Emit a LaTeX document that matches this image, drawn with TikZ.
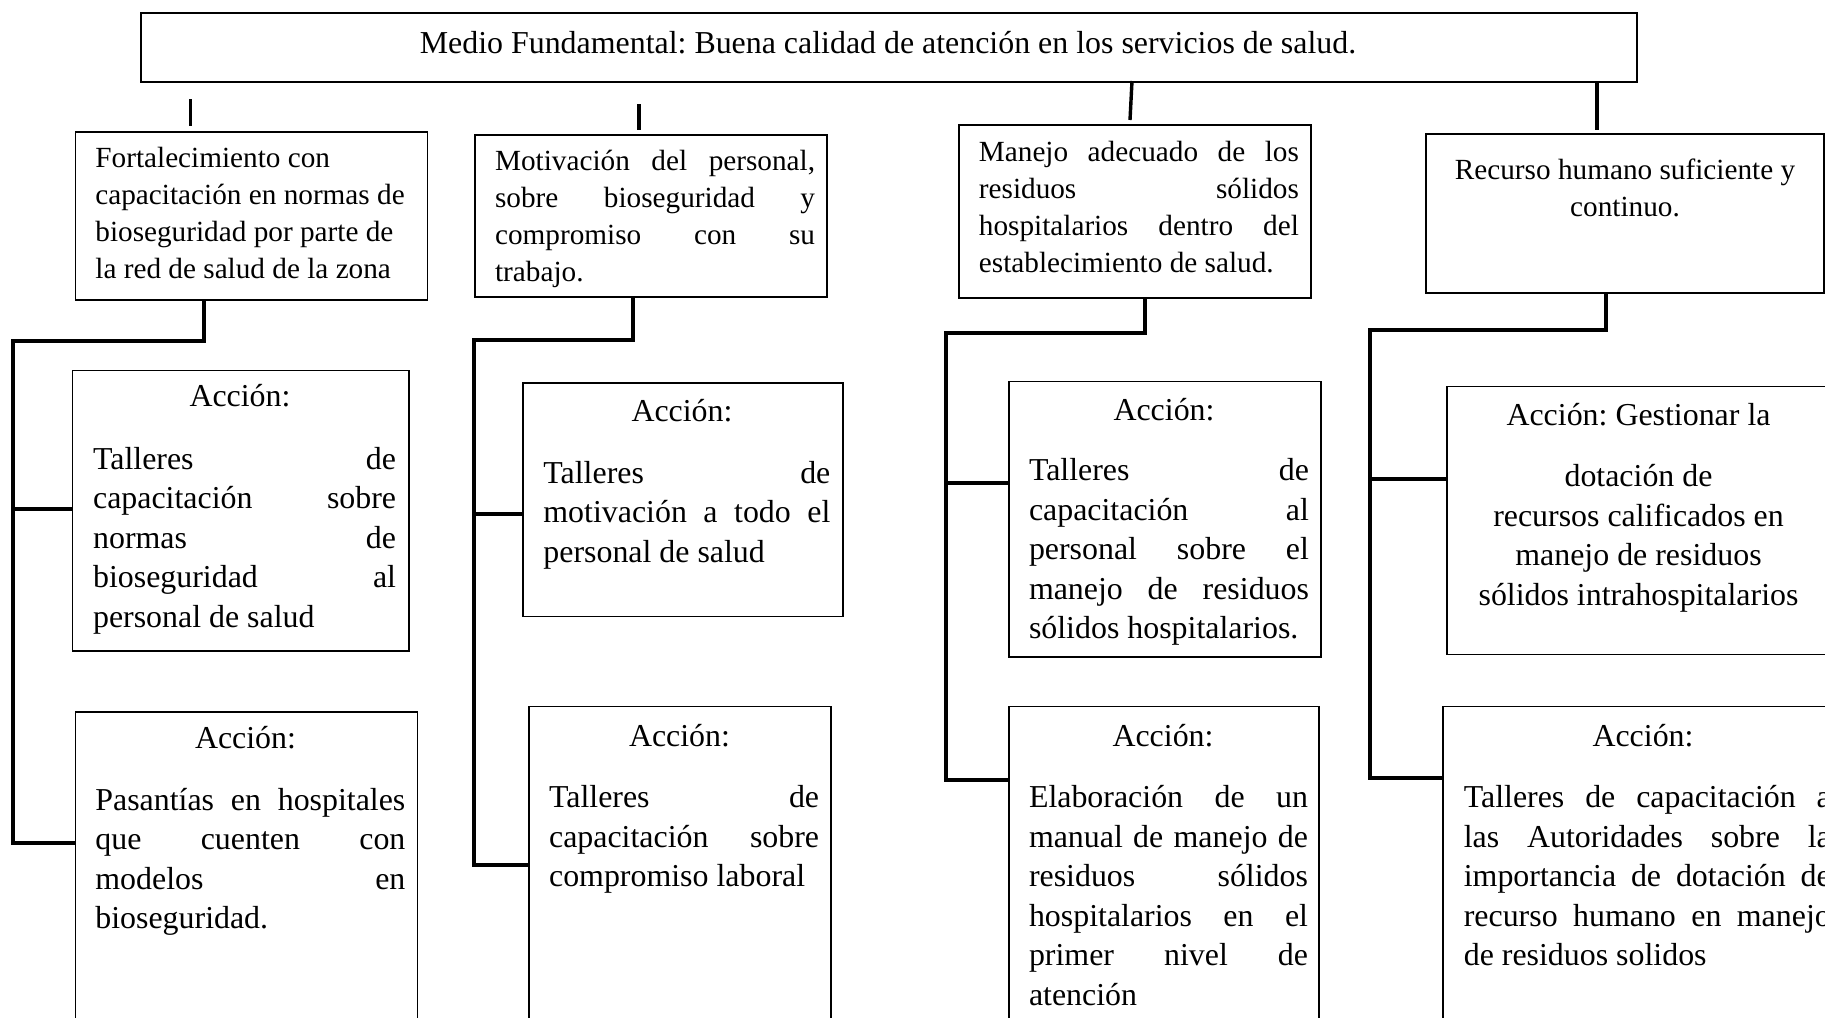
\documentclass[tikz,border=0pt]{standalone}
\usepackage{fontspec}
\setmainfont{Liberation Serif}
\frenchspacing
\newlength\pxu \setlength\pxu{0.5pt}
% justified line of a given width (in px) and a plain line with normal word spaces
\newcommand\J[2]{\leavevmode\hbox to #1\pxu{\spaceskip=\fontdimen2\font plus 1fil\xspaceskip=\spaceskip\relax #2}}
\newcommand\N[1]{\leavevmode\hbox{\spaceskip=\fontdimen2\font\xspaceskip=\spaceskip\relax #1}}
\newcommand\fa{\fontsize{15.95}{19.75}\selectfont}
\newcommand\fh{\fontsize{14.62}{18.5}\selectfont}
\tikzset{
  boxst/.style={draw, line width=0.85pt, inner sep=0pt, anchor=north west},
  conn/.style={line width=1.7pt},
  ta/.style={inner sep=0pt, font=\fa, align=left},
  th/.style={inner sep=0pt, font=\fh, align=left},
}
\begin{document}
\begin{tikzpicture}[x=0.5pt,y=-0.5pt]
\useasboundingbox (0,0) rectangle (1825,1017);
\fill[white] (0,0) rectangle (1825,1017);
\clip (0,0) rectangle (1825,1017);

% boxes
\node[boxst, minimum width=748pt, minimum height=34.5pt] (top) at (140,12) {};
\node[boxst, minimum width=176pt, minimum height=84pt] (b1) at (74.5,131) {};
\node[boxst, minimum width=176pt, minimum height=81pt] (b2) at (474,134) {};
\node[boxst, minimum width=176pt, minimum height=86.5pt] (b3) at (958,124) {};
\node[boxst, minimum width=199pt, minimum height=79.5pt] (b4) at (1425,133) {};
\node[boxst, minimum width=168.2pt, minimum height=140.25pt] (a1a) at (71.6,369.5) {};
\node[boxst, minimum width=171.1pt, minimum height=200pt] (a1b) at (74.5,711) {};
\node[boxst, minimum width=160pt, minimum height=116.75pt] (a2a) at (522,382) {};
\node[boxst, minimum width=151pt, minimum height=200pt] (a2b) at (528,705.6) {};
\node[boxst, minimum width=156pt, minimum height=137.75pt] (a3a) at (1008,380.5) {};
\node[boxst, minimum width=155pt, minimum height=200pt] (a3b) at (1008,705.6) {};
\node[boxst, minimum width=250pt, minimum height=134pt] (a4a) at (1446,385.5) {};
\node[boxst, minimum width=250pt, minimum height=200pt] (a4b) at (1442,705.6) {};

% stubs under the top box
\coordinate (s1a) at (190.7,99);  \coordinate (s1b) at (190.7,126);
\coordinate (s2a) at (639,104);   \coordinate (s2b) at (639,130);
\coordinate (s3a) at (1132,81);   \coordinate (s3b) at (1130,120);
\coordinate (s4a) at (1597,81);   \coordinate (s4b) at (1597,130);
\draw[conn] (s1a) -- (s1b);
\draw[conn] (s2a) -- (s2b);
\draw[conn] (s3a) -- (s3b);
\draw[conn] (s4a) -- (s4b);

% column connectors
\coordinate (k1) at (204,341);  \coordinate (t1) at (13,843);  \coordinate (j1) at (13,509);
\coordinate (k2) at (633,340);  \coordinate (t2) at (474,865); \coordinate (j2) at (474,514);
\coordinate (k3) at (1145,333); \coordinate (t3) at (946,780); \coordinate (j3) at (946,483);
\coordinate (k4) at (1606,330); \coordinate (t4) at (1370,778); \coordinate (j4) at (1370,479);

\draw[conn] (b1.south -| k1) -- (k1) -- (k1 -| t1) -- (t1) -- (a1b.west |- t1);
\draw[conn] (j1) -- (a1a.west |- j1);
\draw[conn] (b2.south -| k2) -- (k2) -- (k2 -| t2) -- (t2) -- (a2b.west |- t2);
\draw[conn] (j2) -- (a2a.west |- j2);
\draw[conn] (b3.south -| k3) -- (k3) -- (k3 -| t3) -- (t3) -- (a3b.west |- t3);
\draw[conn] (j3) -- (a3a.west |- j3);
\draw[conn] (b4.south -| k4) -- (k4) -- (k4 -| t4) -- (t4) -- (a4b.west |- t4);
\draw[conn] (j4) -- (a4a.west |- j4);

% texts
\node[ta, anchor=base] (toptx) at (888,54) {\N{Medio Fundamental: Buena calidad de atención en los servicios de salud.}};

\node[th, text width=165pt, anchor=base west] (b1t) at (95,167.9)
  {\N{Fortalecimiento con}\\\N{capacitación en normas de}\\\N{bioseguridad por parte de}\\\N{la red de salud de la zona}};
\node[th, text width=160pt, anchor=base west] (b2t) at (494.7,170.7)
  {\J{320}{Motivación del personal,}\\\J{320}{sobre bioseguridad y}\\\J{320}{compromiso con su}\\\N{trabajo.}};
\node[th, text width=160pt, anchor=base west] (b3t) at (978.5,161.3)
  {\J{320}{Manejo adecuado de los}\\\J{320}{residuos sólidos}\\\J{320}{hospitalarios dentro del}\\\N{establecimiento de salud.}};
\node[th, text width=180pt, align=center, anchor=base] (b4t) at (1625,179.5)
  {\N{Recurso humano suficiente y}\\\N{continuo.}};

\node[ta, anchor=base] (a1ah) at (240,406) {Acción:};
\node[ta, anchor=base] (a1bh) at (245.5,748) {Acción:};
\node[ta, anchor=base] (a2ah) at (682,421) {Acción:};
\node[ta, anchor=base] (a2bh) at (679.5,746) {Acción:};
\node[ta, anchor=base] (a3ah) at (1164,420) {Acción:};
\node[ta, anchor=base] (a3bh) at (1163,746) {Acción:};
\node[ta, anchor=base] (a4bh) at (1643,746) {Acción:};

\node[ta, text width=151.5pt, anchor=base west] (a1at) at (92.7,469)
  {\J{303}{Talleres de}\\\J{303}{capacitación sobre}\\\J{303}{normas de}\\\J{303}{bioseguridad al}\\\N{personal de salud}};
\node[ta, text width=155pt, anchor=base west] (a1bt) at (95,810)
  {\J{310}{Pasantías en hospitales}\\\J{310}{que cuenten con}\\\J{310}{modelos en}\\\N{bioseguridad.}};
\node[ta, text width=143.5pt, anchor=base west] (a2at) at (543,483)
  {\J{287}{Talleres de}\\\J{287}{motivación a todo el}\\\N{personal de salud}};
\node[ta, text width=135pt, anchor=base west] (a2bt) at (548.7,807.5)
  {\J{270}{Talleres de}\\\J{270}{capacitación sobre}\\\N{compromiso laboral}};
\node[ta, text width=140pt, anchor=base west] (a3at) at (1028.6,480.6)
  {\J{280}{Talleres de}\\\J{280}{capacitación al}\\\J{280}{personal sobre el}\\\J{280}{manejo de residuos}\\\N{sólidos hospitalarios.}};
\node[ta, text width=139.5pt, anchor=base west] (a3bt) at (1028.6,807.5)
  {\J{279}{Elaboración de un}\\\J{279}{manual de manejo de}\\\J{279}{residuos sólidos}\\\J{279}{hospitalarios en el}\\\J{279}{primer nivel de}\\\N{atención}};
\node[ta, text width=180pt, align=center, anchor=base] (a4at) at (1638.5,425.7)
  {\N{Acción: Gestionar la}\\[10.75pt]\N{dotación de}\\\N{recursos calificados en}\\\N{manejo de residuos}\\\N{sólidos intrahospitalarios}};
\node[ta, text width=183.5pt, anchor=base west] (a4bt) at (1463.4,807.5)
  {\J{367}{Talleres de capacitación a}\\\J{367}{las Autoridades sobre la}\\\J{367}{importancia de dotación de}\\\J{367}{recurso humano en manejo}\\\N{de residuos solidos}};
\end{tikzpicture}
\end{document}
